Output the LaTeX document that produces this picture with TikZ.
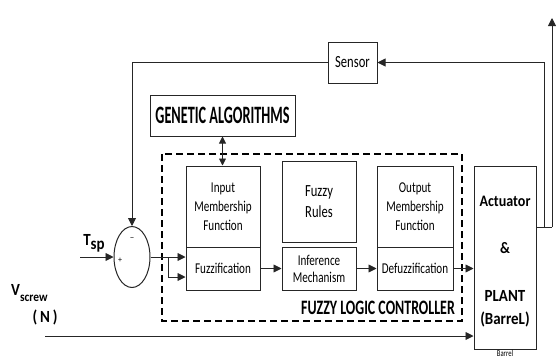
\documentclass[tikz,border=0pt]{standalone}
\usepackage{fontspec}
\setmainfont{Carlito}
\newfontfamily\condA[FakeStretch=0.74]{Carlito}
\newfontfamily\condB[FakeStretch=0.57]{Carlito}
\newfontfamily\condF[FakeStretch=0.68]{Carlito}
\newfontfamily\condC[FakeStretch=0.88]{Carlito}
\usetikzlibrary{arrows.meta,shapes.geometric}
\begin{document}
\begin{tikzpicture}[x=1pt,y=-1pt,
  box/.style={draw=black!85,line width=1pt,inner sep=0pt,align=center,font=\condA\fontsize{15}{19}\selectfont},
  arr/.style={-{Triangle[length=8pt,width=8pt]},line width=0.9pt,draw=black!85},
  dbl/.style={{Triangle[length=7pt,width=7pt]}-{Triangle[length=7pt,width=7pt]},line width=0.9pt,draw=black!85},
  ln/.style={line width=0.9pt,draw=black!85}]
\clip (0,0) rectangle (558,360);
\useasboundingbox (0,0) rectangle (558,360);
% dashed controller frame
\draw[dashed,line width=1.3pt,dash pattern=on 7pt off 4pt] (162,154) rectangle (462,321);
% boxes
\node[box,minimum width=49pt,minimum height=41pt,font=\condA\fontsize{17}{17}\selectfont] (sensor) at (352.5,62.5) {Sensor};
\node[box,minimum width=145pt,minimum height=41pt,font=\condB\bfseries\fontsize{25}{25}\selectfont] (ga) at (222.5,115.5) {GENETIC ALGORITHMS};
\node[box,minimum width=74pt,minimum height=81pt] (inmf) at (223,206.5) {Input\\Membership\\Function};
\node[box,minimum width=74pt,minimum height=43pt] (fuzz) at (223,268.5) {Fuzzification};
\node[box,minimum width=74pt,minimum height=81pt,font=\condA\fontsize{17}{21}\selectfont] (rules) at (319,202) {Fuzzy\\Rules};
\node[box,minimum width=74pt,minimum height=43pt,font=\condA\fontsize{15}{17}\selectfont] (inf) at (319,268.5) {Inference\\Mechanism};
\node[box,minimum width=76pt,minimum height=81pt] (outmf) at (415,206.5) {Output\\Membership\\Function};
\node[box,minimum width=76pt,minimum height=43pt] (defuzz) at (415,268.5) {Defuzzification};
\node[box,minimum width=62pt,minimum height=183pt] (plant) at (505,257.5) {};
\node[font=\condC\bfseries\fontsize{16}{18}\selectfont] (act) at (505,201) {Actuator};
\node[font=\condC\bfseries\fontsize{16}{18}\selectfont] (amp) at (505,248) {\&};
\node[font=\condC\bfseries\fontsize{17}{23}\selectfont,align=center] (pl) at (505,309) {PLANT\\(BarreL)};
\node[font=\condA\fontsize{9}{9}\selectfont,inner sep=0pt] (barrel) at (505,353) {Barrel};
\node[font=\condF\bfseries\fontsize{20.5}{20}\selectfont] (flc) at (378,308) {FUZZY LOGIC CONTROLLER};
% summing junction
\node[draw=black!85,line width=1pt,ellipse,minimum width=36pt,minimum height=61pt,inner sep=0pt] (sum) at (132,257) {};
\node[font=\fontsize{9}{9}\selectfont] (minus) at (132,239) {--};
\node[font=\fontsize{8}{8}\selectfont] (plus) at (120,260) {+};
% labels
\node[font=\condC\bfseries\fontsize{17}{17}\selectfont,inner sep=0pt] (tsp) at (94,243) {T\raisebox{-4pt}{sp}};
\node[font=\condC\bfseries\fontsize{17}{17}\selectfont,inner sep=0pt,anchor=west] (vs) at (11,293) {V\raisebox{-6pt}{\fontsize{13}{13}\selectfont screw}};
\node[font=\condC\bfseries\fontsize{17}{17}\selectfont,inner sep=0pt] (nn) at (45,317) {(\,N\,)};
% coordinates
\coordinate (o1) at (544,227);
\coordinate (o2) at (552,227);
\coordinate (top) at (552,18);
\coordinate (tin) at (80,257);
\coordinate (j) at (168,257);
\coordinate (j2) at (168,277);
\coordinate (vsin) at (45,336);
% connectors
\draw[ln] (plant.east |- o1) -- (o2);
\draw[arr] (o2) -- (top);
\draw[arr] (o1) |- (sensor.east);
\draw[arr] (sensor.west) -| (sum.north);
\draw[dbl] (ga.south) -- (ga.south |- inmf.north);
\draw[arr] (tin) -- (sum.west);
\draw[ln] (sum.east) -- (j);
\draw[arr] (j) -- (j -| fuzz.west);
\draw[arr] (j) |- (j2 -| fuzz.west);
\draw[arr] (fuzz) -- (inf);
\draw[arr] (inf) -- (defuzz);
\draw[arr] (defuzz.east) -- (plant.west |- defuzz.east);
\draw[arr] (vsin) -- (vsin -| plant.west);
\end{tikzpicture}
\end{document}
